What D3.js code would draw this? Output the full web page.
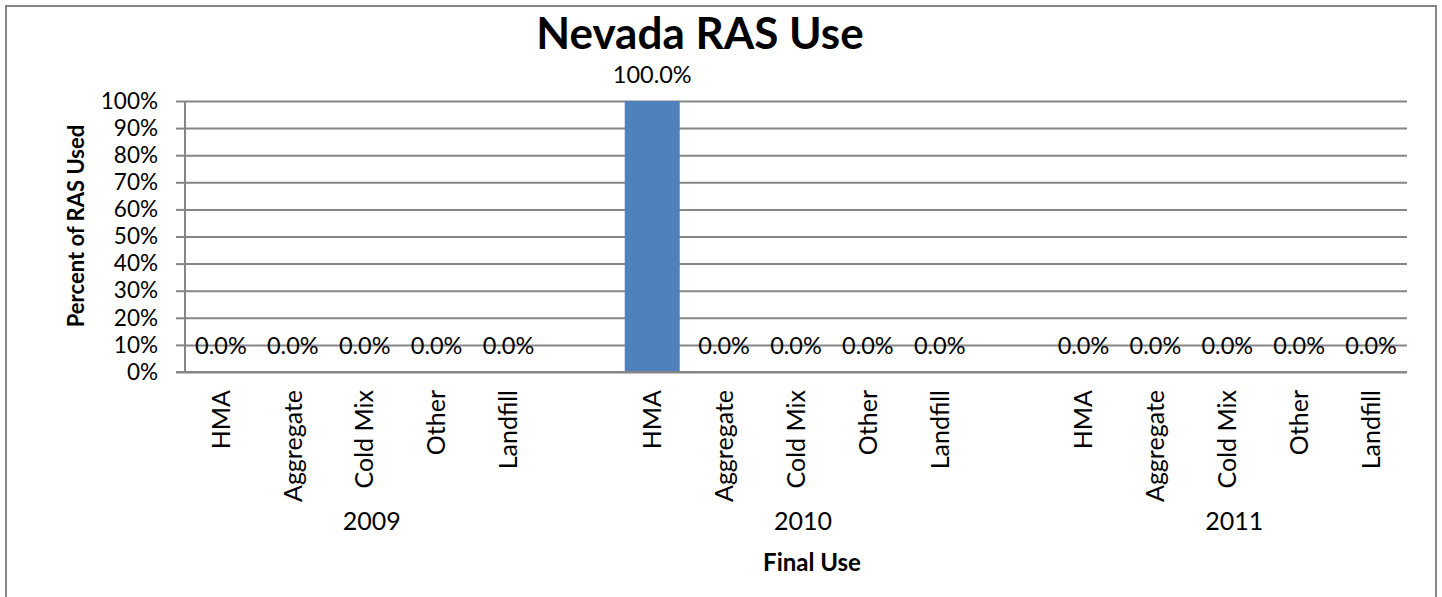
<!DOCTYPE html>
<html>
<head>
  <meta charset="utf-8">
  <script src="https://cdnjs.cloudflare.com/ajax/libs/d3/7.8.5/d3.min.js"></script>
  <title>Nevada RAS Use</title>
  <style>
    body { margin: 0; background: #fff; }
    text { font-family: Lato, "Open Sans", sans-serif; fill: #000; }
    .axis path, .axis line { stroke: #868686; }
    .grid line { stroke: #868686; stroke-width: 2; }
    .grid path { display: none; }
  </style>
</head>
<body>
<script>
// data
const years = ["2009", "2010", "2011"];
const uses = ["HMA", "Aggregate", "Cold Mix", "Other", "Landfill"];
const v2009 = [0, 0, 0, 0, 0];
const v2010 = [1, 0, 0, 0, 0];
const v2011 = [0, 0, 0, 0, 0];
const yTicks = [0, 0.1, 0.2, 0.3, 0.4, 0.5, 0.6, 0.7, 0.8, 0.9, 1];

const W = 1442, H = 597;
const pL = 185, pR = 1407, pT = 101, pB = 372;

const byYear = [v2009, v2010, v2011];
let slots = [];
let rows = [];
years.forEach(function (yr, gi) {
  if (gi > 0) slots.push("gap" + gi);
  uses.forEach(function (u, i) {
    slots.push(yr + "|" + u);
    rows.push({ key: yr + "|" + u, year: yr, use: u, value: byYear[gi][i] });
  });
});

const svg = d3.select("body").append("svg")
  .attr("width", W)
  .attr("height", H);

// outer frame
svg.append("rect")
  .attr("x", 6).attr("y", 6)
  .attr("width", 1430).attr("height", 600)
  .attr("fill", "#fff")
  .attr("stroke", "#868686")
  .attr("stroke-width", 2);

const x = d3.scaleBand().domain(slots).range([pL, pR]).padding(0);
const y = d3.scaleLinear().domain([0, 1]).range([pB, pT]);

// gridlines
svg.append("g")
  .attr("class", "grid")
  .attr("transform", "translate(" + pL + ",0)")
  .call(d3.axisLeft(y).tickValues(yTicks).tickSize(-(pR - pL)).tickFormat(""));

// y axis
const yAxis = svg.append("g")
  .attr("class", "axis")
  .attr("transform", "translate(" + pL + ",0)")
  .call(d3.axisLeft(y).tickValues(yTicks).tickSize(9).tickPadding(18).tickFormat(d3.format(".0%")));
yAxis.select(".domain").attr("stroke-width", 2).attr("d", "M0," + pT + "V" + pB);
yAxis.selectAll("line").attr("stroke-width", 2);
yAxis.selectAll("text").style("font-size", "22.5px").attr("fill", "#000");

// bars
const bw = x.bandwidth() * 0.765;
svg.selectAll(".bar")
  .data(rows)
  .enter()
  .append("rect")
  .attr("class", "bar")
  .attr("x", d => x(d.key) + (x.bandwidth() - bw) / 2)
  .attr("y", d => y(d.value))
  .attr("width", bw)
  .attr("height", d => pB - y(d.value))
  .attr("fill", "#4F81BD");

// redraw baseline on top of bar
svg.append("line")
  .attr("x1", pL - 9).attr("x2", pR)
  .attr("y1", y(0)).attr("y2", y(0))
  .attr("stroke", "#868686").attr("stroke-width", 2);

// data labels
svg.selectAll(".dlabel")
  .data(rows)
  .enter()
  .append("text")
  .attr("class", "dlabel")
  .attr("x", d => x(d.key) + x.bandwidth() / 2)
  .attr("y", d => y(d.value) - 18)
  .attr("text-anchor", "middle")
  .style("font-size", "23.5px")
  .text(d => d3.format(".1%")(d.value));

// category labels
svg.selectAll(".clabel")
  .data(rows)
  .enter()
  .append("text")
  .attr("class", "clabel")
  .attr("transform", d => "translate(" + (x(d.key) + x.bandwidth() / 2) + ",390) rotate(-90)")
  .attr("dy", "0.35em")
  .attr("text-anchor", "end")
  .style("font-size", "25px")
  .text(d => d.use);

// year labels
svg.selectAll(".ylabel")
  .data(years)
  .enter()
  .append("text")
  .attr("class", "ylabel")
  .attr("x", d => x(d + "|Cold Mix") + x.bandwidth() / 2 + 7)
  .attr("y", 530)
  .attr("text-anchor", "middle")
  .style("font-size", "25px")
  .text(d => d);

// title
svg.append("text")
  .attr("x", 700)
  .attr("y", 49)
  .attr("text-anchor", "middle")
  .style("font-size", "44px")
  .style("font-weight", "bold")
  .text("Nevada RAS Use");

// axis titles
svg.append("text")
  .attr("x", (pL + pR) / 2 + 16)
  .attr("y", 571)
  .attr("text-anchor", "middle")
  .style("font-size", "24px")
  .style("font-weight", "bold")
  .text("Final Use");

svg.append("text")
  .attr("transform", "translate(76,226) rotate(-90)")
  .attr("dy", "0.35em")
  .attr("text-anchor", "middle")
  .style("font-size", "22px")
  .style("font-weight", "bold")
  .text("Percent of RAS Used");
</script>
</body>
</html>
